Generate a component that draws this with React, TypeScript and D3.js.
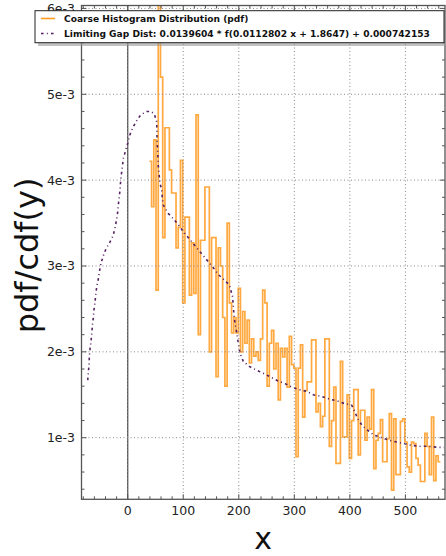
import React from "react";
import * as d3 from "d3";

// ---------- data ----------
const histStart = 39; // x of first bin edge
const histBinWidth = 4;
// pdf values in units of 1e-3
const histValues = [
  4.22, 3.69, 4.47, 2.72, 6.3, 5.2, 3.33, 4.61, 4.61, 4.12, 3.85, 3.85, 3.21, 3.45, 4.23, 2.57,
  3.57, 3.57, 2.66, 3.27, 2.68, 4.76, 2.2, 3.3, 3.3, 3.92, 3.92, 2.0, 3.33, 3.33, 1.71, 3.21,
  3.0, 2.4, 1.6, 3.5, 2.57, 2.22, 2.4, 2.22, 2.74, 2.0, 2.47, 2.1, 2.37, 1.87, 2.15, 1.95,
  2.0, 1.9, 2.15, 2.72, 2.57, 1.6, 2.1, 2.25, 1.8, 2.1, 1.44, 2.04, 1.94, 2.04, 1.59, 2.18,
  1.85, 1.81, 0.78, 1.81, 2.08, 1.24, 1.55, 1.65, 1.65, 2.14, 2.14, 1.3, 1.4, 1.13, 1.25, 2.15,
  2.15, 0.9, 1.2, 1.59, 0.7, 0.7, 1.89, 1.01, 1.01, 1.5, 0.76, 1.2, 1.56, 1.56, 0.8, 1.32,
  1.32, 0.97, 1.24, 1.1, 1.56, 0.64, 0.97, 1.05, 1.21, 0.72, 0.72, 0.99, 1.28, 0.39, 1.22, 0.57,
  0.57, 1.19, 1.22, 0.95, 0.66, 0.6, 0.95, 0.93, 0.76, 0.68, 0.49, 0.49, 1.05, 0.9, 0.57, 1.24,
  0.5, 0.79, 0.72,
];

const gapX = [
  -72.0, -70.9, -69.6, -69.1, -67.9, -66.1, -64.8, -63.7, -61.9, -60.7, -58.9, -57.6, -55.8, -52.9,
  -51.1, -48.1, -43.9, -39.1, -31.9, -26.5, -22.9, -18.7, -16.9, -13.9, -12.6, -10.8, -7.9, -3.6, 0,
  4.1, 8.3, 14.9, 23.4, 34.2, 41.9, 47.9, 52.2, 52.7, 54.0, 55.1, 58.1, 61.2, 62.3, 64.1, 73.1, 82.1,
  91.1, 100.1, 109.1, 118.1, 127.1, 136.1, 145.1, 154.1, 163.1, 173.4, 182.9, 189.0, 190.1, 191.4,
  193.2, 196.2, 199.1, 202.2, 208.1, 218.9, 231.0, 244.1, 256.2, 271.1, 283.2, 295.2, 308.9, 322.2,
  334.1, 349.2, 362.9, 376.2, 389.4, 403.2, 409.2, 413.3, 421.2, 431.3, 443.4, 457.2, 470.9, 484.2,
  499.2, 511.2, 526.2, 541.1, 555.0, 569.4,
];
const gapY = [
  1.67, 1.76, 1.85, 1.94, 2.03, 2.12, 2.21, 2.3, 2.4, 2.49, 2.58, 2.66, 2.76, 2.85, 2.93, 3.03, 3.12,
  3.2, 3.28, 3.35, 3.44, 3.59, 3.71, 3.88, 4.0, 4.1, 4.25, 4.35, 4.43, 4.53, 4.6, 4.68, 4.76, 4.8,
  4.8, 4.77, 4.68, 4.51, 4.33, 4.16, 3.96, 3.89, 3.79, 3.71, 3.61, 3.55, 3.48, 3.4, 3.33, 3.26, 3.19,
  3.12, 3.05, 2.98, 2.9, 2.84, 2.78, 2.64, 2.53, 2.43, 2.33, 2.23, 2.1, 1.98, 1.89, 1.83, 1.79, 1.75,
  1.71, 1.66, 1.63, 1.59, 1.56, 1.54, 1.5, 1.48, 1.45, 1.43, 1.4, 1.38, 1.3, 1.23, 1.15, 1.09, 1.03,
  1.0, 0.97, 0.95, 0.93, 0.91, 0.9, 0.9, 0.89, 0.885,
];

const xTicks = [0, 100, 200, 300, 400, 500];
const xTickLabels = ["0", "100", "200", "300", "400", "500"];
const yTicks = [1, 2, 3, 4, 5, 6];
const yTickLabels = ["1e-3", "2e-3", "3e-3", "4e-3", "5e-3", "6e-3"];

const legendLabels = [
  "Coarse Histogram Distribution (pdf)",
  "Limiting Gap Dist: 0.0139604 * f(0.0112802 x + 1.8647) + 0.000742153",
];

// ---------- layout ----------
const W = 446;
const H = 556;
const L = 81.5, R = 445, T = 5.5, B = 499.3;
const FONT = "DejaVu Sans";
const ORANGE = "#ff9a1f";
const PURPLE = "#55215f";
const DASH = "2.6,3.2,1,3.2";

export default function App() {
  const x = d3.scaleLinear().domain([-83.2, 571.3]).range([L, R]);
  const y = d3.scaleLinear().domain([0.2825, 6.034]).range([B, T]);

  const histPts: [number, number][] = histValues.map((v, i) => [histStart + i * histBinWidth, v]);
  histPts.push([histStart + histValues.length * histBinWidth, histValues[histValues.length - 1]]);
  const histPath = d3
    .line<[number, number]>()
    .x((d) => x(d[0]))
    .y((d) => y(d[1]))
    .curve(d3.curveStepAfter)(histPts);

  const gapPath = d3
    .line<number>()
    .x((_, i) => x(gapX[i]))
    .y((d) => y(d))(gapY);

  const xMinor = d3.range(-80, 572, 20).filter((v) => v % 100 !== 0);
  const yMinor = d3.range(0.4, 6.01, 0.2).filter((v) => Math.abs(v - Math.round(v)) > 0.01);

  const axisColor = "#555";
  const gridColor = "#888";

  return (
    <svg
      width={W}
      height={H}
      style={{ position: "absolute", left: 0, top: 0, background: "#fff" }}
      fontFamily={FONT}
    >
      <defs>
        <clipPath id="plotclip">
          <rect x={L} y={T} width={R - L} height={B - T} />
        </clipPath>
      </defs>
      <rect x={0} y={0} width={W} height={H} fill="#fff" />

      <g clipPath="url(#plotclip)">
        {/* zero line */}
        <line x1={x(0)} x2={x(0)} y1={T} y2={B} stroke="#555" strokeWidth={1.3} />
        {/* histogram */}
        <path d={histPath || ""} fill="none" stroke={ORANGE} strokeWidth={1.7} strokeOpacity={0.85} strokeLinejoin="miter" />
        {/* limiting curve */}
        <path d={gapPath || ""} fill="none" stroke={PURPLE} strokeWidth={1.6} strokeDasharray={DASH} />
        {/* grid on top */}
        {xTicks.map((t) => (
          <line key={"gx" + t} x1={x(t)} x2={x(t)} y1={T} y2={B} stroke={gridColor} strokeWidth={1} strokeDasharray="1,2.5" />
        ))}
        {yTicks.map((t) => (
          <line key={"gy" + t} x1={L} x2={R} y1={y(t)} y2={y(t)} stroke={gridColor} strokeWidth={1} strokeDasharray="1,2.5" />
        ))}
      </g>

      {/* ticks, inward on all sides */}
      {xTicks.map((t) => (
        <g key={"xt" + t}>
          <line x1={x(t)} x2={x(t)} y1={B} y2={B - 5} stroke={axisColor} />
          <line x1={x(t)} x2={x(t)} y1={T} y2={T + 5} stroke={axisColor} />
        </g>
      ))}
      {xMinor.map((t) => (
        <g key={"xm" + t}>
          <line x1={x(t)} x2={x(t)} y1={B} y2={B - 3} stroke={axisColor} />
          <line x1={x(t)} x2={x(t)} y1={T} y2={T + 3} stroke={axisColor} />
        </g>
      ))}
      {yTicks.map((t) => (
        <g key={"yt" + t}>
          <line x1={L} x2={L + 5} y1={y(t)} y2={y(t)} stroke={axisColor} />
          <line x1={R} x2={R - 5} y1={y(t)} y2={y(t)} stroke={axisColor} />
        </g>
      ))}
      {yMinor.map((t) => (
        <g key={"ym" + t.toFixed(1)}>
          <line x1={L} x2={L + 3} y1={y(t)} y2={y(t)} stroke={axisColor} />
          <line x1={R} x2={R - 3} y1={y(t)} y2={y(t)} stroke={axisColor} />
        </g>
      ))}

      {/* frame */}
      <rect x={L} y={T} width={R - L} height={B - T} fill="none" stroke={axisColor} strokeWidth={1.3} />

      {/* tick labels */}
      {xTicks.map((t, i) => (
        <text key={"xl" + t} x={x(t)} y={515} textAnchor="middle" fontSize={12.5} fill="#222">
          {xTickLabels[i]}
        </text>
      ))}
      {yTicks.map((t, i) => (
        <text key={"yl" + t} x={75} y={y(t)} dy="0.36em" textAnchor="end" fontSize={12.5} fill="#222">
          {yTickLabels[i]}
        </text>
      ))}

      {/* axis titles */}
      <text x={(L + R) / 2} y={549} textAnchor="middle" fontSize={30} fill="#111">
        x
      </text>
      <text
        transform={`translate(38,${(T + B) / 2 + 3}) rotate(-90)`}
        textAnchor="middle"
        fontSize={32}
        fill="#111"
      >
        pdf/cdf(y)
      </text>

      {/* legend */}
      <rect x={38} y={14} width={409} height={32} fill="#999" opacity={0.6} />
      <rect x={35} y={10.7} width={409} height={32} fill="#fff" stroke="#222" strokeWidth={1} />
      <line x1={41} x2={55} y1={18.5} y2={18.5} stroke={ORANGE} strokeWidth={1.6} />
      <line x1={41} x2={55} y1={33.5} y2={33.5} stroke={PURPLE} strokeWidth={1.6} strokeDasharray={DASH} />
      {legendLabels.map((s, i) => (
        <text key={"lg" + i} x={64} y={18.5 + i * 15} dy="0.36em" fontSize={9.1} fontWeight="bold" fill="#111">
          {s}
        </text>
      ))}
    </svg>
  );
}
